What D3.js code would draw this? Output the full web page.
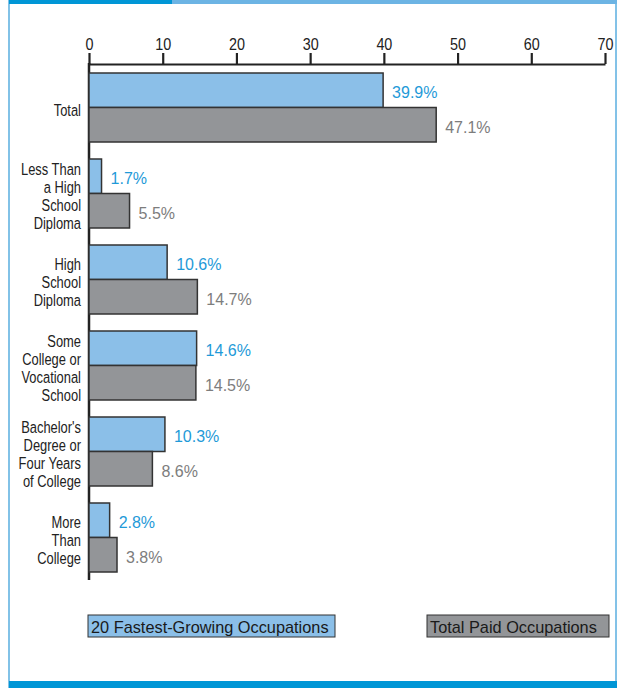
<!DOCTYPE html>
<html>
<head>
<meta charset="utf-8">
<script src="https://cdn.jsdelivr.net/npm/d3@7"></script>
<style>
  body { margin: 0; background: #fff; }
  svg { display: block; }
</style>
</head>
<body>
<div id="chart"></div>
<script>
var categories = [
  ["Total"],
  ["Less Than", "a High", "School", "Diploma"],
  ["High", "School", "Diploma"],
  ["Some", "College or", "Vocational", "School"],
  ["Bachelor's", "Degree or", "Four Years", "of College"],
  ["More", "Than", "College"]
];
var fastest = [39.9, 1.7, 10.6, 14.6, 10.3, 2.8];
var totalPaid = [47.1, 5.5, 14.7, 14.5, 8.6, 3.8];
var seriesNames = ["20 Fastest-Growing Occupations", "Total Paid Occupations"];
var tickValues = [0, 10, 20, 30, 40, 50, 60, 70];

var width = 619, height = 688;
var fills = ["#8bbfe8", "#939598"];
var labelColors = ["#1f9ad8", "#7d7d7d"];

var svg = d3.select('#chart')
  .append('svg')
  .attr('width', width)
  .attr('height', height);

// frame
svg.append('rect').attr('x', 9).attr('y', 0).attr('width', 607).attr('height', 688)
  .attr('fill', 'none').attr('stroke', '#5aaee0').attr('stroke-width', 1.5);
svg.append('rect').attr('x', 9).attr('y', 0).attr('width', 163).attr('height', 4).attr('fill', '#0096d6');
svg.append('rect').attr('x', 172).attr('y', 0).attr('width', 445).attr('height', 4).attr('fill', '#6cb4e4');
svg.append('rect').attr('x', 9).attr('y', 681).attr('width', 608).attr('height', 7).attr('fill', '#0096d6');

var x = d3.scaleLinear().domain([0, 70]).range([89, 605]);

var keys = d3.range(categories.length);
var y = d3.scaleBand().domain(keys).range([73, 572]).paddingInner(17 / 86).paddingOuter(0);
var ySub = d3.scaleBand().domain([0, 1]).range([0, y.bandwidth()]);

// x axis on top
var xAxis = svg.append('g')
  .attr('transform', 'translate(0,64)')
  .call(d3.axisTop(x).tickValues(tickValues).tickSize(11).tickSizeOuter(0).tickPadding(3));
xAxis.attr('font-size', 16.5).attr('font-family', '"Liberation Sans", Arial, sans-serif');
xAxis.selectAll('path, line').attr('stroke', '#222').attr('stroke-width', 2.2);
xAxis.selectAll('.tick text').attr('fill', '#222').attr('transform', 'scale(0.87,1)');

// y axis line
svg.append('line')
  .attr('x1', x(0)).attr('x2', x(0))
  .attr('y1', 63).attr('y2', 580)
  .attr('stroke', '#222').attr('stroke-width', 2.5);

var groups = svg.selectAll('.group')
  .data(keys)
  .enter()
  .append('g')
  .attr('class', 'group')
  .attr('transform', function(d) { return 'translate(0,' + y(d) + ')'; });

[fastest, totalPaid].forEach(function(values, s) {
  groups.append('rect')
    .attr('x', x(0))
    .attr('y', ySub(s))
    .attr('width', function(d) { return x(values[d]) - x(0); })
    .attr('height', ySub.bandwidth())
    .attr('fill', fills[s])
    .attr('stroke', '#333')
    .attr('stroke-width', 1.5);

  groups.append('text')
    .attr('x', function(d) { return x(values[d]) + 9; })
    .attr('y', ySub(s) + ySub.bandwidth() / 2 + 8)
    .attr('font-family', '"Liberation Sans", Arial, sans-serif')
    .attr('font-size', 16)
    .attr('fill', labelColors[s])
    .text(function(d) { return values[d].toFixed(1) + '%'; });
});

// category labels (condensed look)
var lineH = 18;
groups.append('text')
  .attr('text-anchor', 'end')
  .attr('transform', 'translate(81,0) scale(0.76,1)')
  .attr('font-family', '"Liberation Sans", Arial, sans-serif')
  .attr('font-size', 17)
  .attr('fill', '#222')
  .each(function(d) {
    var lines = categories[d];
    var top = y.bandwidth() / 2 - (lines.length - 1) * lineH / 2 + 9;
    var t = d3.select(this);
    lines.forEach(function(l, i) {
      t.append('tspan').attr('x', 0).attr('y', top + i * lineH).text(l);
    });
  });

// legend
var legendBoxes = [
  { x: 88, w: 247 },
  { x: 427, w: 182 }
];
legendBoxes.forEach(function(b, i) {
  svg.append('rect')
    .attr('x', b.x).attr('y', 615)
    .attr('width', b.w).attr('height', 22)
    .attr('fill', fills[i]).attr('stroke', '#333').attr('stroke-width', 1);
  svg.append('text')
    .attr('transform', 'translate(' + (b.x + 3) + ',633) scale(0.96,1)')
    .attr('font-family', '"Liberation Sans", Arial, sans-serif')
    .attr('font-size', 17)
    .attr('fill', '#1a1a1a')
    .text(seriesNames[i]);
});
</script>
</body>
</html>
